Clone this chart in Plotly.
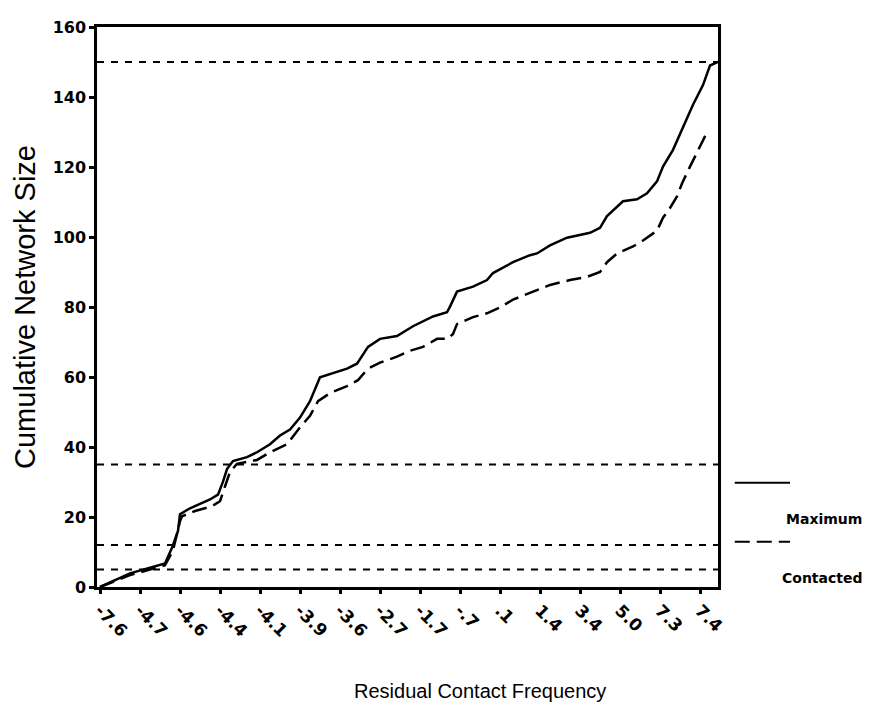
import plotly.graph_objs as go

# cases ranked by residual contact frequency (x), cumulative network size (y)
max_rank = [0, 7.5, 16.25, 18, 19.5, 20, 22.5, 27.5, 29.5, 30.75, 31.75, 33.25, 36.75,
            39.25, 42.5, 45, 47.5, 50, 52.5, 55, 61.75, 64.25, 67, 70, 74.25, 78.25,
            83.25, 86.75, 87.5, 89.25, 93.25, 96.75, 98.25, 103.25, 107.5, 109.25,
            112.5, 116.75, 122.5, 125, 126.75, 130.75, 134.25, 136.75, 139.25, 140.75,
            143.25, 145.75, 148.25, 150.75, 152.5, 154.5]
max_size = [0, 3.9, 6.7, 11.2, 16, 20.8, 22.5, 25, 26.4, 30.1, 33.7, 36, 37.1,
            38.5, 40.8, 43.3, 45, 48.4, 53.1, 59.9, 62.4, 63.8, 68.6, 70.9, 71.7, 74.5,
            77.3, 78.5, 80.1, 84.4, 85.8, 87.7, 89.7, 92.8, 94.8, 95.3,
            97.6, 99.8, 101.2, 102.6, 106, 110.2, 110.8, 112.5, 115.9, 120.1,
            124.9, 131.3, 137.8, 143.4, 149, 150]

con_rank = [0, 7.5, 16.25, 18.25, 20, 20.5, 23.75, 28, 30, 31.25, 32.5, 34.25, 36.25,
            39.25, 42.5, 46.75, 50, 52.5, 54.5, 57.5, 61.75, 64.5, 67, 70, 74.25, 77.5,
            80.75, 84.25, 87, 88.25, 89.25, 93.25, 96.75, 100, 103.25, 108.25, 112.5,
            117.5, 121.75, 125, 126.75, 129.25, 133.25, 135.75, 139.25, 140.75, 142.5,
            144.25, 145.5, 147.5, 150, 152]
con_size = [0, 3.4, 6.2, 10.4, 18.8, 20.2, 21.7, 23.1, 24.5, 28.7, 32.9, 35.2, 35.7,
            36.3, 38.5, 40.8, 45.6, 48.9, 53.1, 55.4, 57.4, 59.1, 62.4, 64.1, 65.8, 67.5,
            68.6, 70.9, 70.9, 72.3, 75.1, 77.1, 78.2, 79.9, 82.1, 84.4, 86.3,
            87.7, 88.6, 90, 92.8, 95.3, 97.3, 99, 101.8, 105.5, 108.3,
            111.6, 115.3, 120.1, 125.7, 130.5]

tick_ranks = [0, 10, 20, 30, 40, 50, 60, 70, 80, 90, 100, 110, 120, 130, 140, 150]
tick_labels = ["-7.6", "-4.7", "-4.6", "-4.4", "-4.1", "-3.9", "-3.6", "-2.7",
               "-1.7", "-.7", ".1", "1.4", "3.4", "5.0", "7.3", "7.4"]

# reference layers of network size
layers = [150, 35, 12, 5]

FONT = "Liberation Sans, Arial, sans-serif"
WIDE = "DejaVu Sans, sans-serif"

traces = [
    go.Scatter(x=max_rank, y=max_size, mode="lines", name="Maximum",
               line=dict(color="black", width=2.5), showlegend=False),
    go.Scatter(x=con_rank, y=con_size, mode="lines", name="Contacted",
               line=dict(color="black", width=2.5, dash="15px,7px"), showlegend=False),
]

shapes = []
for lv in layers:
    shapes.append(dict(type="line", xref="paper", yref="y", x0=0, x1=1, y0=lv, y1=lv,
                       line=dict(color="black", width=2, dash="7px,7px")))

# hand-drawn legend to the right of the plot
shapes.append(dict(type="line", xref="paper", yref="paper", x0=1.027, x1=1.116,
                   y0=0.186, y1=0.186, line=dict(color="black", width=2)))
shapes.append(dict(type="line", xref="paper", yref="paper", x0=1.027, x1=1.116,
                   y0=0.081, y1=0.081, line=dict(color="black", width=2, dash="15px,7px")))

annotations = [
    dict(text="Maximum", xref="paper", yref="paper", x=1.17, y=0.121,
         xanchor="center", yanchor="middle", showarrow=False,
         font=dict(family=WIDE, size=14, color="black", weight="bold")),
    dict(text="Contacted", xref="paper", yref="paper", x=1.1675, y=0.016,
         xanchor="center", yanchor="middle", showarrow=False,
         font=dict(family=WIDE, size=14, color="black", weight="bold")),
    dict(text="Residual Contact Frequency", xref="paper", yref="paper", x=0.617, y=-0.186,
         xanchor="center", yanchor="middle", showarrow=False,
         font=dict(family=FONT, size=20, color="black")),
    dict(text="Cumulative Network Size", xref="paper", yref="paper", x=-0.116, y=0.5,
         xanchor="center", yanchor="middle", textangle=-90, showarrow=False,
         font=dict(family=FONT, size=29, color="black")),
]

layout = go.Layout(
    width=879,
    height=713,
    paper_bgcolor="white",
    plot_bgcolor="white",
    # page body adds 8px, so plot area lands at 97..718 x 18..587
    margin=dict(l=89, r=169, t=10, b=134),
    font=dict(family=FONT, color="black"),
    xaxis=dict(
        range=[-0.75, 154.5],
        tickvals=tick_ranks,
        ticktext=tick_labels,
        tickangle=45,
        tickfont=dict(family=WIDE, size=17, weight="bold"),
        ticks="outside", ticklen=4, tickwidth=3, tickcolor="black",
        showline=True, linecolor="black", linewidth=2.5, mirror=True,
        showgrid=False, zeroline=False,
    ),
    yaxis=dict(
        range=[0, 160],
        tickvals=[0, 20, 40, 60, 80, 100, 120, 140, 160],
        tickfont=dict(family=WIDE, size=16, weight="bold"),
        ticks="outside", ticklen=5, tickwidth=3, tickcolor="black",
        showline=True, linecolor="black", linewidth=2.5, mirror=True,
        showgrid=False, zeroline=False,
    ),
    shapes=shapes,
    annotations=annotations,
    showlegend=False,
)

fig = go.Figure(data=traces, layout=layout)
fig.write_html("out.html")
